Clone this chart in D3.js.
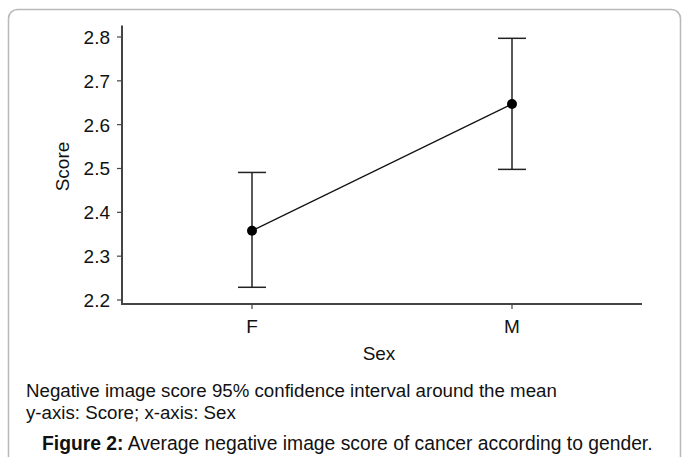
<!DOCTYPE html>
<html>
<head>
<meta charset="utf-8">
<script src="https://cdn.jsdelivr.net/npm/d3@7"></script>
<style>
  body { margin: 0; background: #fff; }
  svg { display: block; font-family: "Liberation Sans", Arial, sans-serif; }
</style>
</head>
<body>
<svg width="683" height="457"></svg>
<script>
// data
var categories = ["F", "M"];
var means = [2.358, 2.647];
var lower = [2.229, 2.498];
var upper = [2.491, 2.797];
var yTicks = [2.2, 2.3, 2.4, 2.5, 2.6, 2.7, 2.8];

var captionLines = [
  "Negative image score 95% confidence interval around the mean",
  "y-axis: Score; x-axis: Sex"
];

var svg = d3.select("svg");

// outer frame
svg.append("rect")
  .attr("x", 8.5).attr("y", 9.5)
  .attr("width", 672).attr("height", 470)
  .attr("rx", 9)
  .attr("fill", "none")
  .attr("stroke", "#b9b9b9")
  .attr("stroke-width", 1.5);

var left = 122, right = 642, bottom = 304;

var x = d3.scalePoint().domain(categories).range([left, right]).padding(0.5);
var y = d3.scaleLinear().domain([2.2, 2.8]).range([300, 37]);

var data = categories.map(function(c, i) {
  return { cat: c, mean: means[i], lo: lower[i], hi: upper[i] };
});

// axes
var g = svg.append("g");
g.append("line")
  .attr("x1", left).attr("x2", left)
  .attr("y1", y(2.826)).attr("y2", bottom + 1)
  .attr("stroke", "#444").attr("stroke-width", 2);
g.append("line")
  .attr("x1", left).attr("x2", right)
  .attr("y1", bottom).attr("y2", bottom)
  .attr("stroke", "#444").attr("stroke-width", 2);

g.selectAll(".ytick").data(yTicks).enter().append("line")
  .attr("x1", left - 5).attr("x2", left)
  .attr("y1", function(d) { return y(d); })
  .attr("y2", function(d) { return y(d); })
  .attr("stroke", "#444").attr("stroke-width", 1.2);

g.selectAll(".ylab").data(yTicks).enter().append("text")
  .attr("x", left - 12)
  .attr("y", function(d) { return y(d); })
  .attr("dy", "0.36em")
  .attr("text-anchor", "end")
  .attr("font-size", 19)
  .attr("fill", "#111")
  .text(function(d) { return d3.format(".1f")(d); });

g.selectAll(".xtick").data(categories).enter().append("line")
  .attr("x1", function(d) { return x(d); })
  .attr("x2", function(d) { return x(d); })
  .attr("y1", bottom).attr("y2", bottom + 5)
  .attr("stroke", "#444").attr("stroke-width", 1.2);

g.selectAll(".xlab").data(categories).enter().append("text")
  .attr("x", function(d) { return x(d); })
  .attr("y", bottom + 29)
  .attr("text-anchor", "middle")
  .attr("font-size", 19)
  .attr("fill", "#111")
  .text(function(d) { return d; });

g.append("text")
  .attr("x", (left + right) / 2 - 3).attr("y", 360)
  .attr("text-anchor", "middle")
  .attr("font-size", 19)
  .attr("fill", "#111")
  .text("Sex");

g.append("text")
  .attr("transform", "translate(69," + (y(2.5) - 2) + ") rotate(-90)")
  .attr("text-anchor", "middle")
  .attr("font-size", 19)
  .attr("fill", "#111")
  .text("Score");

// error bars
var bars = svg.append("g");
bars.selectAll(".err").data(data).enter().append("line")
  .attr("x1", function(d) { return x(d.cat); })
  .attr("x2", function(d) { return x(d.cat); })
  .attr("y1", function(d) { return y(d.hi); })
  .attr("y2", function(d) { return y(d.lo); })
  .attr("stroke", "#222").attr("stroke-width", 1.5);

["hi", "lo"].forEach(function(k) {
  bars.selectAll(".cap-" + k).data(data).enter().append("line")
    .attr("x1", function(d) { return x(d.cat) - 14; })
    .attr("x2", function(d) { return x(d.cat) + 14; })
    .attr("y1", function(d) { return y(d[k]); })
    .attr("y2", function(d) { return y(d[k]); })
    .attr("stroke", "#222").attr("stroke-width", 1.5);
});

// mean line and points
var line = d3.line()
  .x(function(d) { return x(d.cat); })
  .y(function(d) { return y(d.mean); });

svg.append("path")
  .datum(data)
  .attr("d", line)
  .attr("fill", "none")
  .attr("stroke", "#111")
  .attr("stroke-width", 1.5);

svg.selectAll(".pt").data(data).enter().append("circle")
  .attr("cx", function(d) { return x(d.cat); })
  .attr("cy", function(d) { return y(d.mean); })
  .attr("r", 5)
  .attr("fill", "#000");

// caption
svg.selectAll(".cap").data(captionLines).enter().append("text")
  .attr("x", 26)
  .attr("y", function(d, i) { return 397 + i * 22; })
  .attr("font-size", 18.7)
  .attr("fill", "#111")
  .text(function(d) { return d; });

var fig = svg.append("text")
  .attr("x", 42).attr("y", 450)
  .attr("font-size", 19.3)
  .attr("fill", "#111");
fig.append("tspan").attr("font-weight", "bold").text("Figure 2:");
fig.append("tspan").text(" Average negative image score of cancer according to gender.");
</script>
</body>
</html>
